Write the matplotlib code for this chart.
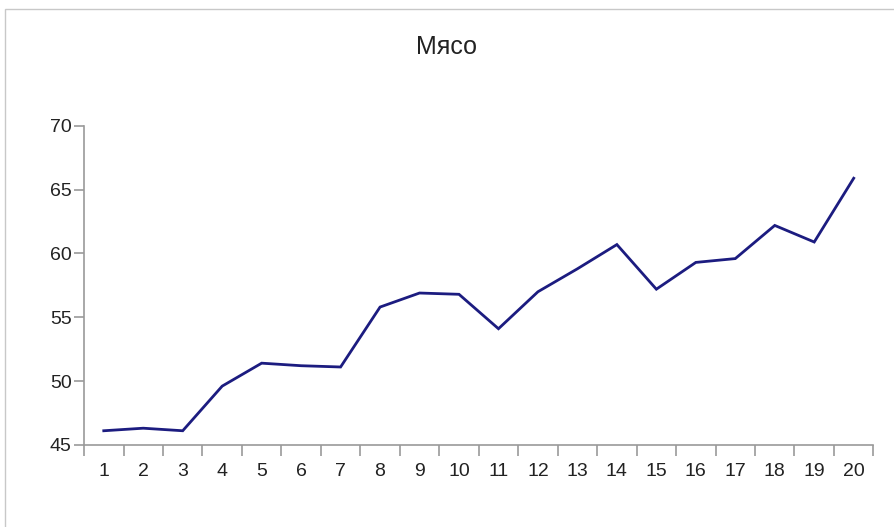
import matplotlib
matplotlib.use("Agg")
import matplotlib.pyplot as plt
from matplotlib.patches import Rectangle

plt.rcParams['font.family'] = ['Liberation Sans', 'DejaVu Sans']

# ================== данные ==================
TITLE = "Мясо"
categories = list(range(1, 21))
values = [46.1, 46.3, 46.1, 49.6, 51.4, 51.2, 51.1, 55.8, 56.9, 56.8,
          54.1, 57.0, 58.8, 60.7, 57.2, 59.3, 59.6, 62.2, 60.9, 65.9]
y_ticks = [45, 50, 55, 60, 65, 70]

AXIS_COLOR = "#9a9a9a"
LINE_COLOR = "#1c1c80"
TEXT_COLOR = "#222222"

fig = plt.figure(figsize=(8.94, 5.27), dpi=100)
ax = fig.add_axes([0.094, 0.156, 0.883, 0.605])

# рамка вокруг графика
fig.patches.append(Rectangle((0.006, -0.01), 1.2, 0.993, transform=fig.transFigure,
                             fill=False, edgecolor="#c8c8c8", linewidth=1.0))

ax.plot(categories, values, color=LINE_COLOR, linewidth=2.0, solid_joinstyle="miter")

ax.set_xlim(0.5, 20.5)
ax.set_ylim(45, 70)
ax.set_yticks(y_ticks)
ax.set_yticklabels([str(v) for v in y_ticks], fontsize=14, color=TEXT_COLOR)

# подписи категорий по центру, засечки по границам
ax.set_xticks(categories)
ax.set_xticklabels([str(c) for c in categories], fontsize=14, color=TEXT_COLOR)
ax.tick_params(axis="x", which="major", length=0, pad=13)
ax.set_xticks([c + 0.5 for c in [0] + categories], minor=True)
ax.tick_params(axis="x", which="minor", length=8, color=AXIS_COLOR, width=1.2, direction="out")
ax.tick_params(axis="y", length=7, color=AXIS_COLOR, width=1.2, pad=2)

for side in ["top", "right"]:
    ax.spines[side].set_visible(False)
for side in ["left", "bottom"]:
    ax.spines[side].set_color(AXIS_COLOR)
    ax.spines[side].set_linewidth(1.2)

fig.text(0.5, 0.91, TITLE, ha="center", va="center", fontsize=18, color=TEXT_COLOR)

fig.savefig("out.png", dpi=100)
